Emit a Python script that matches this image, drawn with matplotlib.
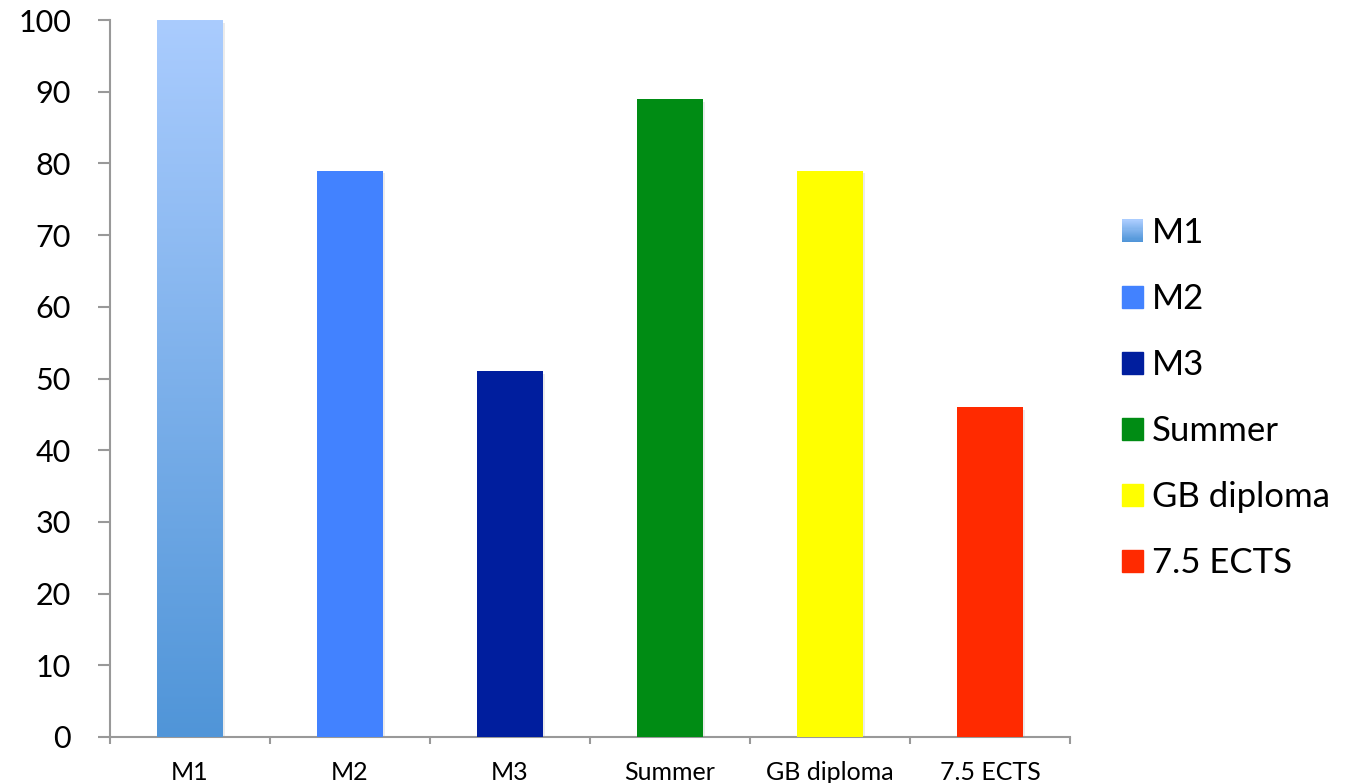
import matplotlib
matplotlib.use("Agg")
import matplotlib.pyplot as plt
import numpy as np
from matplotlib.patches import Rectangle
from matplotlib.legend_handler import HandlerBase
from matplotlib.colors import LinearSegmentedColormap, to_rgb

categories = ["M1", "M2", "M3", "Summer", "GB diploma", "7.5 ECTS"]
values = [100, 79, 51, 89, 79, 46]
colors = ["#7FB2EE", "#4282FF", "#001E9E", "#008C14", "#FFFF00", "#FF2A00"]
grad_top = "#AACCFE"
grad_bottom = "#5095D8"
yticks = list(range(0, 101, 10))

plt.rcParams['font.family'] = ['Lato', 'DejaVu Sans']

fig = plt.figure(figsize=(13.48, 7.83), dpi=100)
ax = fig.add_axes([110/1348, 46/783, 960/1348, 717/783])

x = np.arange(len(categories))
bars = ax.bar(x, values, width=0.41, color=colors, zorder=3)

# gradient for first bar
cmap = LinearSegmentedColormap.from_list("g", [grad_bottom, grad_top])
b0 = bars[0]
bx, by = b0.get_x(), b0.get_y()
bw, bh = b0.get_width(), b0.get_height()
grad = np.linspace(0, 1, 256).reshape(-1, 1)
im = ax.imshow(grad, cmap=cmap, origin="lower", aspect="auto",
               extent=[bx, bx + bw, by, by + bh], zorder=4)
im.set_clip_path(b0)

# subtle shadows
for b in bars:
    ax.add_patch(Rectangle((b.get_x() + 0.012, 0), b.get_width(), b.get_height() - 0.4,
                           color="#000000", alpha=0.08, zorder=2, lw=0))

ax.set_xlim(-0.5, len(categories) - 0.5)
ax.set_ylim(0, 100)
ax.set_yticks(yticks)
ax.set_yticklabels([str(t) for t in yticks], fontsize=22)
ax.set_xticks(x)
ax.set_xticklabels(categories, fontsize=18)
ax.set_xticks(np.arange(-0.5, len(categories), 1.0), minor=True)
ax.tick_params(axis='x', which='major', length=0, pad=17)
ax.tick_params(axis='x', which='minor', length=5, width=1.5, color="#999999")
ax.tick_params(axis='y', length=9, width=1.5, color="#999999", pad=19)

for s in ["top", "right"]:
    ax.spines[s].set_visible(False)
for s in ["left", "bottom"]:
    ax.spines[s].set_color("#999999")
    ax.spines[s].set_linewidth(1.5)


class GradHandler(HandlerBase):
    def create_artists(self, legend, orig_handle, xdescent, ydescent, width, height, fontsize, trans):
        arts = []
        n = 20
        c1, c2 = np.array(to_rgb(grad_bottom)), np.array(to_rgb(grad_top))
        for i in range(n):
            c = c1 + (c2 - c1) * i / (n - 1)
            r = Rectangle((-xdescent, -ydescent + height * i / n), width, height / n + 0.3,
                          facecolor=c, edgecolor="none", transform=trans)
            arts.append(r)
        return arts


handles = [Rectangle((0, 0), 1, 1, color=c) for c in colors]
grad_handle = object()
handles[0] = grad_handle
leg = fig.legend(handles, categories, loc="center left",
                 bbox_to_anchor=(1122/1348, (783 - 398)/783), frameon=False,
                 fontsize=25, handlelength=0.6, handleheight=0.6,
                 handletextpad=0.26, labelspacing=0.98,
                 borderpad=0, borderaxespad=0,
                 handler_map={grad_handle: GradHandler()})

fig.savefig("out.png", dpi=100)
